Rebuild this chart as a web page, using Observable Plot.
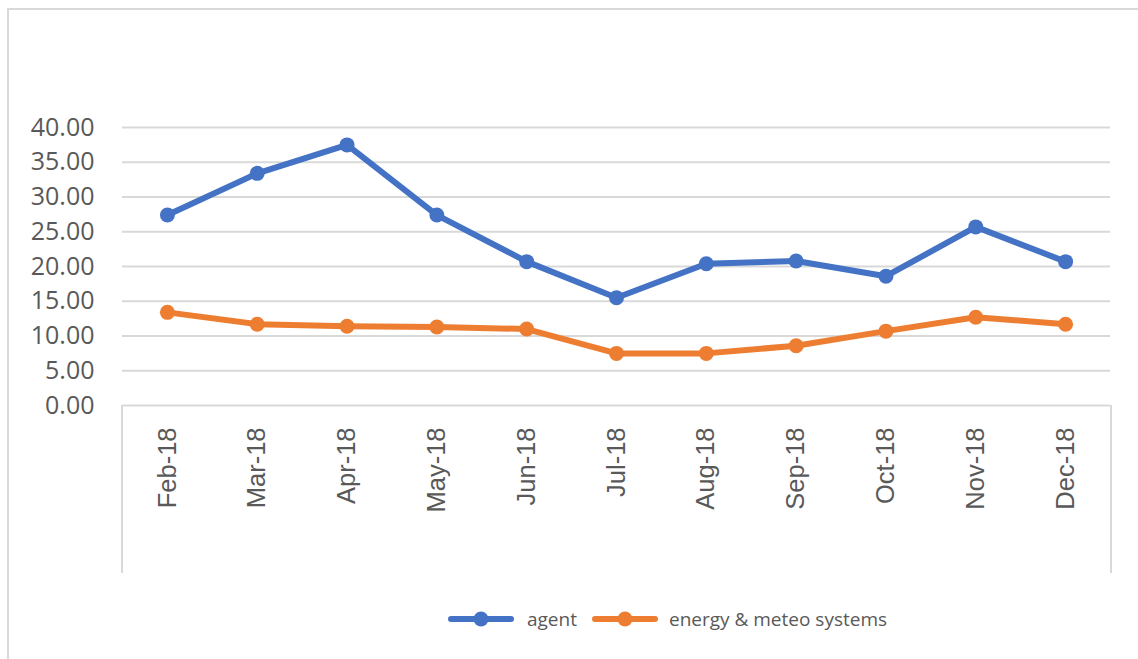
<!DOCTYPE html>
<html><head><meta charset="utf-8">
<script src="https://cdn.jsdelivr.net/npm/d3@7"></script>
<script src="https://cdn.jsdelivr.net/npm/@observablehq/plot@0.6"></script>
<style>
body{margin:0;background:#fff;}
#wrap{position:relative;width:1138px;height:659px;overflow:hidden;font-family:"Open Sans",sans-serif;background:#fff;}
#frame{position:absolute;left:7px;top:8px;width:1200px;height:700px;border-left:2px solid #d9d9d9;border-top:2px solid #d9d9d9;}
#axisbox{position:absolute;left:121px;top:405px;width:987px;height:168px;border-left:2px solid #d9d9d9;border-right:2px solid #d9d9d9;}
#chart{position:absolute;left:0;top:0;}
#legend{position:absolute;top:606px;left:448px;display:flex;align-items:center;font-size:19px;color:#595959;white-space:nowrap;}
#legend .sw{display:block;}
</style>
</head><body>
<div id="wrap">
<div id="frame"></div>
<div id="axisbox"></div>
<div id="chart"></div>
<div id="legend"></div>
</div>
<script>
const months = ["Feb-18","Mar-18","Apr-18","May-18","Jun-18","Jul-18","Aug-18","Sep-18","Oct-18","Nov-18","Dec-18"];
const agent = [27.4, 33.4, 37.5, 27.4, 20.7, 15.5, 20.4, 20.8, 18.6, 25.7, 20.7];
const energy = [13.4, 11.7, 11.4, 11.3, 11.0, 7.5, 7.5, 8.6, 10.7, 12.7, 11.7];
const seriesNames = ["agent", "energy & meteo systems"];
const colors = ["#4472C4", "#ED7D31"];
const yTicks = [0, 5, 10, 15, 20, 25, 30, 35, 40];

const data = months.flatMap((m, i) => [
  {month: m, value: agent[i], series: seriesNames[0]},
  {month: m, value: energy[i], series: seriesNames[1]}
]);

const chart = Plot.plot({
  width: 1138, height: 590,
  marginLeft: 122, marginRight: 28, marginTop: 127, marginBottom: 185,
  style: {background: "transparent", fontFamily: "'Open Sans', sans-serif", overflow: "visible"},
  x: {type: "point", domain: months, padding: 0.5, round: false, label: null},
  y: {domain: [0, 40], label: null},
  color: {domain: seriesNames, range: colors},
  marks: [
    Plot.ruleY(yTicks, {stroke: "#d9d9d9", strokeWidth: 2}),
    Plot.axisY({ticks: yTicks, tickFormat: d => d.toFixed(2), tickSize: 0, tickPadding: 28, fontSize: 25, color: "#595959", label: null}),
    Plot.axisX({tickSize: 0, tickRotate: -90, tickPadding: 22, fontSize: 25.5, fontFamily: "'Liberation Sans', Arial, sans-serif", color: "#595959", label: null}),
    Plot.line(data, {x: "month", y: "value", stroke: "series", z: "series", strokeWidth: 6, strokeLinejoin: "round", strokeLinecap: "round"}),
    Plot.dot(data, {x: "month", y: "value", fill: "series", r: 7.5})
  ]
});
document.getElementById("chart").appendChild(chart);

const legend = document.getElementById("legend");
const gaps = [[0, 13], [15, 11]];
seriesNames.forEach((name, i) => {
  const ns = "http://www.w3.org/2000/svg";
  const sv = document.createElementNS(ns, "svg");
  sv.setAttribute("width", 66); sv.setAttribute("height", 20);
  sv.setAttribute("class", "sw");
  sv.style.marginLeft = gaps[i][0] + "px";
  sv.style.marginRight = gaps[i][1] + "px";
  const ln = document.createElementNS(ns, "line");
  ln.setAttribute("x1", 3); ln.setAttribute("x2", 63); ln.setAttribute("y1", 10); ln.setAttribute("y2", 10);
  ln.setAttribute("stroke", colors[i]); ln.setAttribute("stroke-width", 6); ln.setAttribute("stroke-linecap", "round");
  const c = document.createElementNS(ns, "circle");
  c.setAttribute("cx", 33); c.setAttribute("cy", 10); c.setAttribute("r", 7.5); c.setAttribute("fill", colors[i]);
  sv.appendChild(ln); sv.appendChild(c);
  legend.appendChild(sv);
  const t = document.createElement("span");
  t.textContent = name;
  legend.appendChild(t);
});
</script>
</body></html>
